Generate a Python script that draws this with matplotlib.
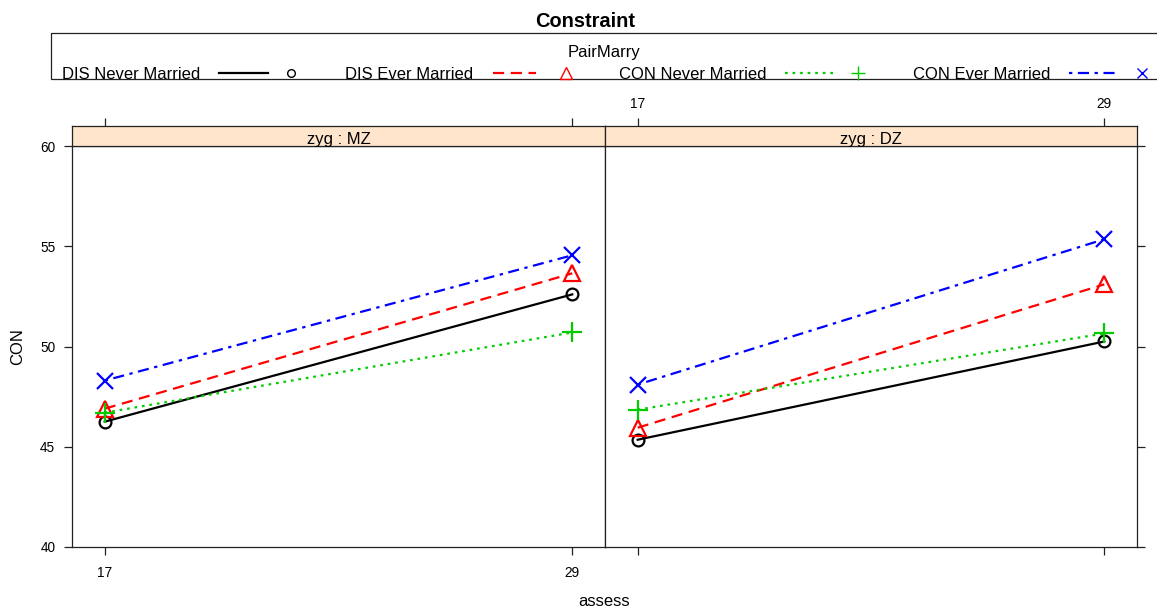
import matplotlib
matplotlib.use("Agg")
import matplotlib.pyplot as plt
from matplotlib.patches import Rectangle
from matplotlib.lines import Line2D

plt.rcParams['font.family'] = ['Liberation Sans', 'DejaVu Sans']

# ---------------- data ----------------
assess = [17, 29]
panels = ["MZ", "DZ"]
groups = ["DIS Never Married", "DIS Ever Married", "CON Never Married", "CON Ever Married"]

mz_dis_never = [46.25, 52.6]
mz_dis_ever = [46.9, 53.65]
mz_con_never = [46.7, 50.7]
mz_con_ever = [48.3, 54.55]

dz_dis_never = [45.35, 50.25]
dz_dis_ever = [45.95, 53.1]
dz_con_never = [46.85, 50.65]
dz_con_ever = [48.1, 55.35]

panel_data = {
    "MZ": [mz_dis_never, mz_dis_ever, mz_con_never, mz_con_ever],
    "DZ": [dz_dis_never, dz_dis_ever, dz_con_never, dz_con_ever],
}

y_ticks = [40, 45, 50, 55, 60]
x_ticks = [17, 29]

# ---------------- styles ----------------
colors = ["#000000", "#FF0000", "#00CC00", "#0000FF"]
dashes = [None, (5, 3), (1.2, 2.2), (1.5, 2.5, 5, 2.5)]
markers = ["o", "^", "+", "x"]
msizes = [8.5, 11, 14, 11]
leg_msizes = [5.5, 8.5, 9.5, 7.5]

W, H = 1157, 613
fig = plt.figure(figsize=(W / 100, H / 100), dpi=100)


def rect(x0, y0, x1, y1):
    return [x0 / W, 1 - y1 / H, (x1 - x0) / W, (y1 - y0) / H]


panel_x = [(72, 605), (605, 1137)]
xlim = (16.16, 29.84)
tick_fs = 9.8

for i, (pname, (x0, x1)) in enumerate(zip(panels, panel_x)):
    ax = fig.add_axes(rect(x0, 146, x1, 547))
    sax = fig.add_axes(rect(x0, 126, x1, 146), sharex=ax)

    for j, vals in enumerate(panel_data[pname]):
        line, = ax.plot(assess, vals, color=colors[j], lw=1.6,
                        marker=markers[j], ms=msizes[j], mew=1.6,
                        mfc="none", mec=colors[j], clip_on=False)
        if dashes[j] is not None:
            line.set_dashes(dashes[j])

    ax.set_xlim(*xlim)
    ax.set_ylim(40, 60)
    ax.set_yticks(y_ticks)
    ax.set_xticks(x_ticks)
    for sp in ax.spines.values():
        sp.set_linewidth(0.9)
        sp.set_color("#222222")
    ax.tick_params(direction="out", length=6, width=0.9, color="#222222",
                   labelsize=tick_fs, pad=6)
    if i == 0:
        ax.tick_params(axis="y", left=True, labelleft=True, right=False, labelright=False)
        ax.tick_params(axis="x", bottom=True, labelbottom=True, pad=8)
    else:
        ax.tick_params(axis="y", left=False, labelleft=False, right=True, labelright=False)
        ax.tick_params(axis="x", bottom=True, labelbottom=False)

    # strip
    sax.set_facecolor("#FFE5CC")
    sax.set_ylim(0, 1)
    sax.set_yticks([])
    for sp in sax.spines.values():
        sp.set_linewidth(0.9)
        sp.set_color("#222222")
    sax.tick_params(axis="x", bottom=False, labelbottom=False, top=True,
                    direction="out", length=6, width=0.9, color="#222222",
                    labelsize=tick_fs, pad=5)
    sax.tick_params(axis="x", labeltop=(i == 1))
    sax.text(0.5, 0.08, "zyg : " + pname, transform=sax.transAxes,
             ha="center", va="baseline", fontsize=12)

# ---------------- overlay for title, labels and key ----------------
lax = fig.add_axes([0, 0, 1, 1], facecolor="none")
lax.set_xlim(0, W)
lax.set_ylim(H, 0)
lax.axis("off")

lax.text(585, 27, "Constraint", ha="center", va="baseline",
         fontsize=14.4, fontweight="bold")
lax.text(18, 346.5, "CON", ha="center", va="center", rotation=90, fontsize=12)
lax.text(604, 606, "assess", ha="center", va="baseline", fontsize=12)

lax.add_patch(Rectangle((51, 33), 1115, 46, fill=False, lw=0.9, ec="#222222",
                        clip_on=True))
lax.text(604, 57, "PairMarry", ha="center", va="baseline", fontsize=12)

text_x = [62, 345, 619, 913]
line_x = [(219, 268), (493, 536), (785, 833), (1069, 1119)]
mark_x = [291, 566, 858, 1142]
ky = 72.5
for j, g in enumerate(groups):
    lax.text(text_x[j], 79, g, ha="left", va="baseline", fontsize=12)
    ln = Line2D(line_x[j], [ky, ky], color=colors[j], lw=1.6)
    if dashes[j] is not None:
        ln.set_dashes(dashes[j])
    lax.add_line(ln)
    lax.add_line(Line2D([mark_x[j]], [ky], marker=markers[j], ms=leg_msizes[j],
                        mfc="none", mec=colors[j], mew=1.0, ls="none"))

fig.savefig("out.png", dpi=100)
